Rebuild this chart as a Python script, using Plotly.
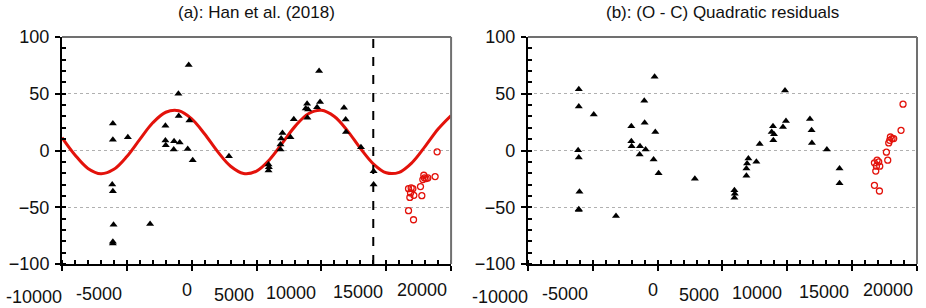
import plotly.graph_objects as go
from plotly.subplots import make_subplots

# ---------------- data ----------------
# Black triangles: epoch (x), Han et al. O-C (left), quadratic residuals (right)
tri_x = [-6077, -6077, -6128, -6077, -6026, -6077, -6077, -4923, -3208,
         -2026, -2026, -2000, -1359, -1385, -1026, -1000, -923, -308, -231,
         -177, 77, 2872, 5923, 5950, 5923, 6846, 6846, 6897, 7000, 7615,
         7872, 8897, 8795, 8974, 8923, 9667, 9897, 9823, 11744, 11872,
         11897, 13051, 14026, 14026]
tri_y_a = [23.8, 9.4, -30.0, -36.0, -65.4, -80.5, -82.0, 11.7, -64.8,
           21.7, 8.8, 4.7, 8.2, 0.9, 50.0, 30.3, 7.0, 1.4, 75.3,
           26.5, -8.6, -5.0, -12.4, -14.8, -17.7, 0.9, 5.3, 10.6, 15.5, 11.7,
           27.6, 41.2, 37.1, 36.2, 28.8, 38.2, 42.7, 70.0, 37.6, 27.4,
           16.4, 2.9, -18.3, -30.0]
tri_y_b = [54.0, 38.8, 0.3, -6.1, -36.3, -51.7, -52.5, 31.8, -57.6,
           21.3, 8.1, 3.8, 3.8, -3.5, 43.8, 24.5, 0.9, -7.9, 65.0,
           16.3, -20.0, -24.9, -35.0, -38.0, -41.7, -22.2, -15.8, -11.4, -7.0, -10.0,
           5.8, 21.3, 16.3, 14.3, 9.0, 20.7, 25.9, 52.8, 27.7, 17.8,
           6.7, 0.9, -15.8, -28.9]

# Red open circles: new timings
circ_x = [16718, 16718, 16821, 16872, 16923, 17051, 17103, 17128, 17641,
          17744, 17821, 17897, 17949, 18077, 18205, 18769, 18923]
circ_y_a = [-33.6, -53.0, -41.3, -37.4, -33.0, -33.6, -61.0, -39.5, -31.8,
            -39.8, -25.6, -21.8, -24.2, -24.7, -24.2, -23.0, -1.2]
circ_y_b = [-10.9, -30.7, -18.1, -13.8, -8.5, -10.0, -35.7, -13.8, -1.5,
            -8.5, 6.7, 9.0, 11.9, 10.5, 10.5, 17.8, 40.8]

# Red model curve (Han et al. 2018), every 1000
curve_x = list(range(-10000, 20001, 1000))
curve_y = [11.4, -3.9, -15.8, -20.5, -16.6, -5.3, 9.8, 24.4, 33.7, 35.0,
           27.9, 14.5, -1.0, -13.9, -20.2, -18.1, -8.1, 6.7, 21.7, 32.4,
           35.4, 29.9, 17.5, 2.0, -11.7, -19.6, -19.2, -10.6, 3.6, 18.9, 30.8]

dashed_x = 14000

x_tick_vals = [-10000, -5000, 0, 5000, 10000, 15000, 20000]
x_tick_text = ["-10000", "-5000", "0", "5000", "10000", "15000", "20000"]
y_tick_vals = [-100, -50, 0, 50, 100]

titles = ["(a): Han et al. (2018)", "(b): (O - C) Quadratic residuals"]

# ---------------- style ----------------
FONT = "Liberation Sans, Arial, sans-serif"
RED = "#e3120b"
label_xshift = [-28, -28, -5, -23, -30, -28, -29]
label_yshift = [-33, -30, -26, -31, -29, -28, -26]

W, H = 926, 308
ML, MR, MT, MB = 60, 9, 37, 44
pw = W - ML - MR
d1 = (0, (450 - ML) / pw)
d2 = ((527 - ML) / pw, 1.0)

fig = make_subplots(rows=1, cols=2)

# Left panel
fig.add_trace(go.Scatter(x=curve_x, y=curve_y, mode="lines",
                         line=dict(color=RED, width=3, shape="spline", smoothing=1.0),
                         showlegend=False, hoverinfo="skip"), row=1, col=1)
fig.add_trace(go.Scatter(x=tri_x, y=tri_y_a, mode="markers",
                         marker=dict(symbol="triangle-up", size=7, color="black"), showlegend=False), row=1, col=1)
fig.add_trace(go.Scatter(x=circ_x, y=circ_y_a, mode="markers",
                         marker=dict(symbol="circle-open", size=6, color=RED, line=dict(width=1.3, color=RED)),
                         showlegend=False), row=1, col=1)
# Right panel
fig.add_trace(go.Scatter(x=tri_x, y=tri_y_b, mode="markers",
                         marker=dict(symbol="triangle-up", size=7, color="black"), showlegend=False), row=1, col=2)
fig.add_trace(go.Scatter(x=circ_x, y=circ_y_b, mode="markers",
                         marker=dict(symbol="circle-open", size=6, color=RED, line=dict(width=1.3, color=RED)),
                         showlegend=False), row=1, col=2)

fig.add_vline(x=dashed_x, row=1, col=1, line=dict(color="black", width=2, dash="dash"))

for i, dom in ((1, d1), (2, d2)):
    sfx = "" if i == 1 else "2"
    xa = "xaxis" + sfx
    ya = "yaxis" + sfx
    fig.layout[xa].update(
        domain=list(dom), range=[-10000, 20000], showgrid=False, zeroline=False,
        showline=True, linecolor="black", linewidth=2,
        tickmode="array", tickvals=x_tick_vals, ticktext=[""] * len(x_tick_vals),
        ticks="outside", ticklen=5, tickwidth=2, tickcolor="black",
        minor=dict(ticks="inside", dtick=1000, ticklen=4, tickwidth=1.5, tickcolor="black", showgrid=False),
    )
    fig.layout[ya].update(
        domain=[0, 1], range=[-100, 100], zeroline=False,
        showline=True, linecolor="black", linewidth=2,
        tickmode="array", tickvals=y_tick_vals,
        ticks="outside", ticklen=5, tickwidth=2, tickcolor="black",
        showgrid=True, gridcolor="#b0b0b0", gridwidth=1, griddash="dot",
        minor=dict(ticks="inside", dtick=10, ticklen=4, tickwidth=1.5, tickcolor="black", showgrid=False),
        tickfont=dict(family=FONT, size=18, color="#111"), ticklabelstandoff=2,
    )
    # top & right grey frame
    fig.add_shape(type="line", xref=f"x{sfx} domain", yref="paper",
                  x0=0, x1=1, y0=1, y1=1, line=dict(color="#707070", width=2))
    fig.add_shape(type="line", xref=f"x{sfx} domain", yref="paper",
                  x0=1, x1=1, y0=0, y1=1, line=dict(color="#707070", width=2))
    # x tick labels
    for v, t, dx, dy in zip(x_tick_vals, x_tick_text, label_xshift, label_yshift):
        fig.add_annotation(x=v, xref=f"x{sfx}", y=0, yref="paper",
                           text=t, showarrow=False, xanchor="center", yanchor="middle",
                           xshift=dx, yshift=dy, font=dict(family=FONT, size=18, color="#111"))
    # title
    fig.add_annotation(x=0.5, xref=f"x{sfx} domain", y=1, yref="paper",
                       text=titles[i - 1], showarrow=False, xanchor="center", yanchor="middle",
                       yshift=25, font=dict(family=FONT, size=17, color="#111"))

fig.update_layout(width=W, height=H, margin=dict(l=ML, r=MR, t=MT, b=MB),
                  plot_bgcolor="white", paper_bgcolor="white")

fig.write_html("out.html", config={"displayModeBar": False},
               post_script="document.body.style.margin='0';")
